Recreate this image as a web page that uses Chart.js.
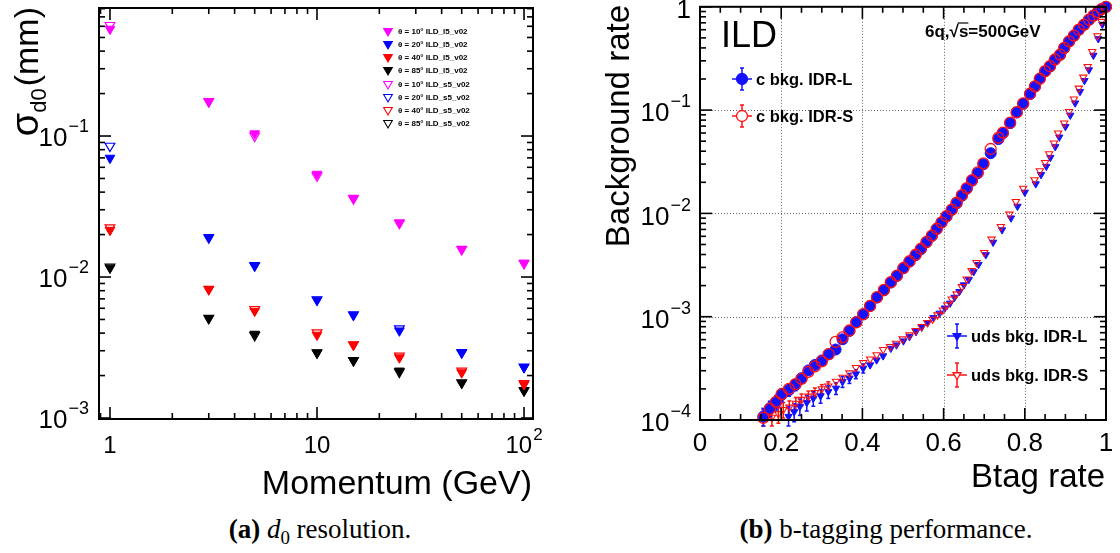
<!DOCTYPE html>
<html>
<head>
<meta charset="utf-8">
<script src="https://cdn.jsdelivr.net/npm/chart.js@4.4.1/dist/chart.umd.min.js"></script>
<style>
  body { margin: 0; background: #fff; width: 1120px; height: 553px; position: relative; overflow: hidden; }
  .box { position: absolute; top: 0; width: 560px; height: 505px; }
  #boxA { left: 0; }
  #boxB { left: 560px; }
  .cap { position: absolute; top: 514px; width: 440px; text-align: center;
         font-family: "Liberation Serif", "Times New Roman", serif; font-size: 27px; line-height: 30px; color: #000; }
  .cap sub { font-size: 70%; vertical-align: -0.3em; line-height: 0; }
</style>
</head>
<body>
<div class="box" id="boxA"><canvas id="chartA" width="560" height="505"></canvas></div>
<div class="box" id="boxB"><canvas id="chartB" width="560" height="505"></canvas></div>
<div class="cap" style="left:100px"><b>(a)</b> <i>d</i><sub>0</sub> resolution.</div>
<div class="cap" style="left:666px"><b>(b)</b> b-tagging performance.</div>

<script>
// --- (a) d0 resolution vs momentum ---
const momentum = [1, 3, 5, 10, 15, 25, 50, 100];
const sig10L5 = [0.574, 0.175, 0.104, 0.0537, 0.0363, 0.0243, 0.0158, 0.0126];
const sig20L5 = [0.0698, 0.0191, 0.0120, 0.00687, 0.00537, 0.00416, 0.00290, 0.00229];
const sig40L5 = [0.0215, 0.00818, 0.00574, 0.00388, 0.00330, 0.00268, 0.00210, 0.00173];
const sig85L5 = [0.0116, 0.00509, 0.00394, 0.00290, 0.00255, 0.00216, 0.00177, 0.00156];
const sig10S5 = [0.610, 0.176, 0.100, 0.0522, 0.0360, 0.0241, 0.0157, 0.0125];
const sig20S5 = [0.0849, 0.0190, 0.0121, 0.00690, 0.00540, 0.00430, 0.00292, 0.00230];
const sig40S5 = [0.0224, 0.00820, 0.00590, 0.00403, 0.00332, 0.00276, 0.00216, 0.00176];
const sig85S5 = [0.0118, 0.00510, 0.00385, 0.00291, 0.00256, 0.00212, 0.00178, 0.00157];
const seriesA = [
    { label: "θ = 10° ILD_l5_v02", data: sig10L5, color: '#ff00ff', filled: true },
    { label: "θ = 20° ILD_l5_v02", data: sig20L5, color: '#0000ff', filled: true },
    { label: "θ = 40° ILD_l5_v02", data: sig40L5, color: '#ff0000', filled: true },
    { label: "θ = 85° ILD_l5_v02", data: sig85L5, color: '#000000', filled: true },
    { label: "θ = 10° ILD_s5_v02", data: sig10S5, color: '#ff00ff', filled: false },
    { label: "θ = 20° ILD_s5_v02", data: sig20S5, color: '#0000ff', filled: false },
    { label: "θ = 40° ILD_s5_v02", data: sig40S5, color: '#ff0000', filled: false },
    { label: "θ = 85° ILD_s5_v02", data: sig85S5, color: '#000000', filled: false }
];
const aXTicks = [1, 10, 100];
const aXLabels = ["1", "10", "10^2"];
const aYTicks = [0.001, 0.01, 0.1];
const aYLabels = ["10^-3", "10^-2", "10^-1"];

// --- (b) b-tagging: background rate vs btag rate ---
const cBtag = [0.156, 0.172, 0.187, 0.201, 0.219, 0.235, 0.250, 0.267, 0.283, 0.300, 0.317, 0.334, 0.351, 0.368, 0.385,
    0.402, 0.419, 0.436, 0.453, 0.470, 0.485, 0.501, 0.516, 0.531, 0.544, 0.558, 0.571, 0.583, 0.595, 0.607,
    0.620, 0.632, 0.645, 0.657, 0.670, 0.684, 0.698, 0.716, 0.735, 0.746, 0.764, 0.780, 0.796, 0.813, 0.825,
    0.837, 0.850, 0.862, 0.874, 0.887, 0.897, 0.909, 0.921, 0.933, 0.946, 0.958, 0.969, 0.980, 0.989, 1.0];
const cBkgL = [1.08e-4, 1.30e-4, 1.47e-4, 1.75e-4, 1.95e-4, 2.18e-4, 2.54e-4, 3.02e-4, 3.41e-4, 3.77e-4, 4.32e-4, 4.81e-4,
    6.04e-4, 7.28e-4, 8.89e-4, 1.05e-3, 1.27e-3, 1.53e-3, 1.80e-3, 2.14e-3, 2.48e-3, 2.94e-3, 3.41e-3, 3.94e-3,
    4.50e-3, 5.26e-3, 6.05e-3, 7.03e-3, 8.15e-3, 9.31e-3, 0.0108, 0.0125, 0.0148, 0.0173, 0.0207, 0.0245, 0.0299,
    0.0383, 0.0524, 0.0598, 0.0748, 0.0948, 0.115, 0.143, 0.169, 0.201, 0.237, 0.264, 0.307, 0.343, 0.398, 0.461,
    0.524, 0.598, 0.670, 0.748, 0.818, 0.887, 0.948, 1.0];
const cBkgS = [1.05e-4, 1.28e-4, 1.50e-4, 1.78e-4, 2.00e-4, 2.22e-4, 2.50e-4, 2.92e-4, 3.30e-4, 3.70e-4, 4.35e-4, 5.70e-4,
    6.30e-4, 7.35e-4, 8.80e-4, 1.06e-3, 1.27e-3, 1.55e-3, 1.82e-3, 2.16e-3, 2.50e-3, 2.96e-3, 3.44e-3, 3.98e-3,
    4.55e-3, 5.30e-3, 6.10e-3, 7.10e-3, 8.20e-3, 9.40e-3, 0.0109, 0.0127, 0.0150, 0.0176, 0.0210, 0.0250, 0.0305,
    0.0420, 0.0540, 0.0605, 0.0755, 0.0955, 0.116, 0.144, 0.170, 0.202, 0.238, 0.266, 0.309, 0.345, 0.400, 0.463,
    0.526, 0.600, 0.672, 0.750, 0.820, 0.889, 0.950, 1.0];
const udsBtagL = [0.218, 0.232, 0.246, 0.263, 0.279, 0.297, 0.316, 0.335, 0.351, 0.368, 0.384, 0.402, 0.419, 0.435, 0.451,
    0.470, 0.484, 0.501, 0.516, 0.532, 0.546, 0.561, 0.575, 0.590, 0.603, 0.616, 0.627, 0.639, 0.650, 0.662,
    0.674, 0.686, 0.704, 0.722, 0.744, 0.766, 0.782, 0.800, 0.827, 0.840, 0.853, 0.863, 0.875, 0.885, 0.900,
    0.912, 0.924, 0.936, 0.947, 0.958, 0.969, 0.981, 0.991];
const udsBkgL = [1.08e-4, 1.20e-4, 1.35e-4, 1.47e-4, 1.62e-4, 1.71e-4, 1.88e-4, 2.03e-4, 2.35e-4, 2.54e-4, 2.79e-4, 3.17e-4,
    3.41e-4, 3.81e-4, 4.17e-4, 4.94e-4, 5.32e-4, 5.82e-4, 6.41e-4, 7.16e-4, 7.91e-4, 8.77e-4, 9.79e-4, 1.08e-3,
    1.21e-3, 1.35e-3, 1.54e-3, 1.75e-3, 2.03e-3, 2.29e-3, 2.72e-3, 3.20e-3, 3.98e-3, 5.25e-3, 6.92e-3, 9.02e-3,
    0.0117, 0.0160, 0.0193, 0.0237, 0.0285, 0.0347, 0.0442, 0.0547, 0.0692, 0.0891, 0.117, 0.151, 0.193, 0.245,
    0.339, 0.490, 0.676];
const udsBtagS = [0.177, 0.193, 0.205, 0.220, 0.236, 0.250, 0.267, 0.283, 0.300, 0.316, 0.335, 0.351, 0.368, 0.384, 0.402,
    0.419, 0.435, 0.451, 0.468, 0.483, 0.499, 0.516, 0.531, 0.546, 0.560, 0.573, 0.585, 0.598, 0.609, 0.620,
    0.632, 0.645, 0.657, 0.669, 0.681, 0.700, 0.718, 0.741, 0.762, 0.778, 0.796, 0.824, 0.837, 0.850, 0.860,
    0.872, 0.882, 0.897, 0.909, 0.921, 0.933, 0.944, 0.955, 0.966, 0.979, 0.989];
const udsBkgS = [1.06e-4, 1.15e-4, 1.26e-4, 1.33e-4, 1.45e-4, 1.58e-4, 1.70e-4, 1.84e-4, 2.00e-4, 2.13e-4, 2.37e-4, 2.59e-4,
    2.85e-4, 3.22e-4, 3.59e-4, 3.89e-4, 4.27e-4, 4.81e-4, 5.13e-4, 5.53e-4, 6.08e-4, 6.65e-4, 7.33e-4, 8.02e-4,
    8.77e-4, 9.44e-4, 1.04e-3, 1.16e-3, 1.30e-3, 1.48e-3, 1.66e-3, 1.95e-3, 2.31e-3, 2.79e-3, 3.34e-3, 4.18e-3,
    5.62e-3, 7.45e-3, 9.82e-3, 0.0130, 0.0175, 0.0211, 0.0258, 0.0310, 0.0377, 0.0479, 0.0598, 0.0748, 0.0968,
    0.128, 0.163, 0.208, 0.264, 0.369, 0.524, 0.721];
// relative errors, only visible on the lowest points
const cErrL = [0.20, 0.17, 0.15, 0.14, 0.13, 0.12, 0.10, 0.09];
const cErrS = [0.20, 0.17, 0.15, 0.13, 0.12, 0.11];
const udsErrL = [0.24, 0.20, 0.18, 0.17, 0.16, 0.15, 0.14, 0.13, 0.12, 0.11, 0.10, 0.10];
const udsErrS = [0.22, 0.19, 0.17, 0.15, 0.14, 0.13, 0.12, 0.11, 0.10, 0.10];
const bXTicks = [0, 0.2, 0.4, 0.6, 0.8, 1];
const bXLabels = ["0", "0.2", "0.4", "0.6", "0.8", "1"];
const bXMinor = [0.05, 0.1, 0.15, 0.25, 0.3, 0.35, 0.45, 0.5, 0.55, 0.65, 0.7, 0.75, 0.85, 0.9, 0.95];
const bYTicks = [1e-4, 1e-3, 1e-2, 1e-1, 1];
const bYLabels = ["10^-4", "10^-3", "10^-2", "10^-1", "1"];
const bGridX = [0.2, 0.4, 0.6, 0.8];
const bGridY = [1e-3, 1e-2, 1e-1];

const SANS = "'Liberation Sans', Arial, Helvetica, sans-serif";
const BLUE = '#1212ff';
const RED = '#ff1010';

function logMinors(lo, hi) {
    const out = [];
    for (let e = Math.floor(Math.log10(lo)); e <= Math.ceil(Math.log10(hi)); e++) {
        for (let m = 2; m <= 9; m++) {
            const v = m * Math.pow(10, e);
            if (v >= lo && v <= hi) out.push(v);
        }
    }
    return out;
}

// "10^-2" -> 10 with raised exponent, like ROOT's TLatex
function drawPowLabel(ctx, text, x, y, align, size) {
    const parts = text.split('^');
    const base = parts[0];
    const exp = parts.length > 1 ? parts[1].replace('-', '\u2212') : '';
    const es = Math.round(size * 0.7);
    ctx.font = size + 'px ' + SANS;
    const wb = ctx.measureText(base).width;
    ctx.font = es + 'px ' + SANS;
    const we = exp ? ctx.measureText(exp).width + 1 : 0;
    const total = wb + we;
    const x0 = align === 'right' ? x - total : (align === 'center' ? x - total / 2 : x);
    ctx.textAlign = 'left';
    ctx.textBaseline = 'middle';
    ctx.font = size + 'px ' + SANS;
    ctx.fillText(base, x0, y);
    if (exp) {
        ctx.font = es + 'px ' + SANS;
        ctx.fillText(exp, x0 + wb + 1, y - size * 0.45);
    }
}

function drawMarker(ctx, style, x, y, r, color, filled, lw) {
    ctx.beginPath();
    if (style === 'circle') {
        ctx.arc(x, y, r, 0, Math.PI * 2);
    } else {
        // triangle pointing down
        const h = r * 0.866;
        ctx.moveTo(x - h, y - r / 2);
        ctx.lineTo(x + h, y - r / 2);
        ctx.lineTo(x, y + r);
        ctx.closePath();
    }
    ctx.lineWidth = lw || 1;
    ctx.strokeStyle = color;
    ctx.fillStyle = filled ? color : '#fff';
    ctx.fill();
    ctx.stroke();
}

function line(ctx, x1, y1, x2, y2) {
    ctx.beginPath();
    ctx.moveTo(x1, y1);
    ctx.lineTo(x2, y2);
    ctx.stroke();
}

// ROOT-like frame: inner ticks on all four sides, labels, extras
function makeRootPlugin(cfg) {
    return {
        id: 'rootFrame',
        beforeDatasetsDraw(chart) {
            const ctx = chart.ctx, a = chart.chartArea;
            const xs = chart.scales.x, ys = chart.scales.y;
            ctx.save();
            if (cfg.gridX) {
                ctx.strokeStyle = '#666';
                ctx.lineWidth = 1;
                ctx.setLineDash([1, 2]);
                cfg.gridX.forEach(v => {
                    const px = Math.round(xs.getPixelForValue(v)) + 0.5;
                    line(ctx, px, a.top, px, a.bottom);
                });
                cfg.gridY.forEach(v => {
                    const py = Math.round(ys.getPixelForValue(v)) + 0.5;
                    line(ctx, a.left, py, a.right, py);
                });
                ctx.setLineDash([]);
            }
            // error bars
            chart.data.datasets.forEach(ds => {
                if (!ds.relErr) return;
                ctx.strokeStyle = ds.pointBorderColor;
                ctx.lineWidth = 1.5;
                ds.relErr.forEach((e, j) => {
                    const pt = ds.data[j];
                    const px = xs.getPixelForValue(pt.x);
                    const y1 = ys.getPixelForValue(pt.y * (1 + e));
                    const y2 = Math.min(ys.getPixelForValue(pt.y * (1 - e)), a.bottom + 6);
                    line(ctx, px, y1, px, y2);
                    line(ctx, px - 2, y1, px + 2, y1);
                    line(ctx, px - 2, y2, px + 2, y2);
                });
            });
            ctx.restore();
        },
        afterDraw(chart) {
            const ctx = chart.ctx, a = chart.chartArea;
            const xs = chart.scales.x, ys = chart.scales.y;
            ctx.save();
            ctx.strokeStyle = '#000';
            ctx.fillStyle = '#000';
            ctx.lineWidth = 2;
            ctx.strokeRect(a.left, a.top, a.right - a.left, a.bottom - a.top);
            const tick = (vals, len, isX) => vals.forEach(v => {
                if (isX) {
                    const px = xs.getPixelForValue(v);
                    line(ctx, px, a.bottom, px, a.bottom - len);
                    line(ctx, px, a.top, px, a.top + len);
                } else {
                    const py = ys.getPixelForValue(v);
                    line(ctx, a.left, py, a.left + len, py);
                    line(ctx, a.right, py, a.right - len, py);
                }
            });
            ctx.lineWidth = 1.6;
            tick(cfg.xMajor, 12, true);
            tick(cfg.xMinor, 6, true);
            tick(cfg.yMajor, 12, false);
            tick(cfg.yMinor, 6, false);
            cfg.xMajor.forEach((v, i) => {
                drawPowLabel(ctx, cfg.xLabels[i], xs.getPixelForValue(v), cfg.xLabelY, 'center', cfg.xSize);
            });
            cfg.yMajor.forEach((v, i) => {
                drawPowLabel(ctx, cfg.yLabels[i], cfg.yLabelX, ys.getPixelForValue(v) + cfg.yLabelDy, 'right', cfg.ySize);
            });
            cfg.extra(ctx, chart);
            ctx.restore();
        }
    };
}

// ---------------- chart (a) ----------------
const datasetsA = seriesA.map(s => ({
    label: s.label,
    data: momentum.map((m, i) => ({ x: m, y: s.data[i] })),
    showLine: false,
    pointStyle: 'triangle',
    pointRotation: 180,
    pointRadius: 5.6,
    pointHoverRadius: 5.6,
    pointBackgroundColor: s.filled ? s.color : 'rgba(255,255,255,0)',
    pointBorderColor: s.color,
    pointBorderWidth: s.filled ? 1 : 1.2,
    clip: false
}));

const cfgA = {
    xMajor: aXTicks, xLabels: aXLabels, xMinor: logMinors(0.885, 110.5),
    yMajor: aYTicks, yLabels: aYLabels, yMinor: logMinors(0.000984, 0.809),
    xLabelY: 446, xSize: 24, yLabelX: 89, yLabelDy: 3, ySize: 26,
    extra(ctx) {
        // y title: sigma_d0(mm)
        ctx.save();
        ctx.translate(38, 0);
        ctx.rotate(-Math.PI / 2);
        ctx.textAlign = 'left';
        ctx.textBaseline = 'alphabetic';
        ctx.font = '38px ' + SANS;
        const w1 = ctx.measureText('σ').width;
        ctx.font = '22px ' + SANS;
        const w2 = ctx.measureText('d0').width;
        ctx.font = '34px ' + SANS;
        const w3 = ctx.measureText('(mm)').width;
        let lx = -(7 + w1 + w2 + w3 + 2);
        ctx.font = '38px ' + SANS;
        ctx.fillText('σ', lx, 0);
        lx += w1;
        ctx.font = '22px ' + SANS;
        ctx.fillText('d0', lx, 8);
        lx += w2 + 2;
        ctx.font = '34px ' + SANS;
        ctx.fillText('(mm)', lx, 0);
        ctx.restore();
        // x title
        ctx.font = '34px ' + SANS;
        ctx.textAlign = 'right';
        ctx.textBaseline = 'alphabetic';
        ctx.fillText('Momentum (GeV)', 532, 494);
        // legend
        const rows = [31, 44, 57, 70, 84, 97, 110, 123];
        seriesA.forEach((s, i) => {
            drawMarker(ctx, 'triangle', 388, rows[i], 5, s.color, s.filled, 1.1);
            ctx.fillStyle = '#000';
            ctx.font = 'bold 8px ' + SANS;
            ctx.textAlign = 'left';
            ctx.textBaseline = 'middle';
            ctx.fillText(s.label, 398, rows[i] + 1);
        });
    }
};

new Chart(document.getElementById('chartA').getContext('2d'), {
    type: 'scatter',
    data: { datasets: datasetsA },
    options: {
        responsive: false,
        animation: false,
        events: [],
        layout: { padding: { left: 99, top: 8, right: 27, bottom: 86 } },
        plugins: { legend: { display: false }, tooltip: { enabled: false } },
        scales: {
            x: { type: 'logarithmic', min: 0.885, max: 110.5, display: false },
            y: { type: 'logarithmic', min: 0.000984, max: 0.809, display: false }
        }
    },
    plugins: [makeRootPlugin(cfgA)]
});

// ---------------- chart (b) ----------------
function pts(xs, ys) {
    return xs.map((x, i) => ({ x: x, y: ys[i] }));
}

const datasetsB = [
    {   // first dataset is painted last, so IDR-S sits on top
        label: 'c bkg. IDR-S', data: pts(cBtag, cBkgS), relErr: cErrS,
        pointStyle: 'circle', pointRadius: 5.5, pointBackgroundColor: 'rgba(255,255,255,0)',
        pointBorderColor: RED, pointBorderWidth: 1.3
    },
    {
        label: 'uds bkg. IDR-S', data: pts(udsBtagS, udsBkgS), relErr: udsErrS,
        pointStyle: 'triangle', pointRotation: 180, pointRadius: 4.2, pointBackgroundColor: 'rgba(255,255,255,0)',
        pointBorderColor: RED, pointBorderWidth: 1.1
    },
    {
        label: 'c bkg. IDR-L', data: pts(cBtag, cBkgL), relErr: cErrL,
        pointStyle: 'circle', pointRadius: 5.5, pointBackgroundColor: BLUE,
        pointBorderColor: BLUE, pointBorderWidth: 1
    },
    {
        label: 'uds bkg. IDR-L', data: pts(udsBtagL, udsBkgL), relErr: udsErrL,
        pointStyle: 'triangle', pointRotation: 180, pointRadius: 4.2, pointBackgroundColor: BLUE,
        pointBorderColor: BLUE, pointBorderWidth: 1
    }
].map(d => Object.assign({ showLine: false, clip: false, pointHoverRadius: d.pointRadius }, d));

function legendEntry(ctx, x, y, style, r, color, filled, text, tx, hw, vh) {
    ctx.strokeStyle = color;
    ctx.lineWidth = 1.5;
    line(ctx, x - hw, y, x + hw, y);
    line(ctx, x, y - vh, x, y + vh);
    line(ctx, x - 2, y - vh, x + 2, y - vh);
    line(ctx, x - 2, y + vh, x + 2, y + vh);
    drawMarker(ctx, style, x, y, r, color, filled, 1.3);
    ctx.fillStyle = '#000';
    ctx.font = 'bold 16.5px ' + SANS;
    ctx.textAlign = 'left';
    ctx.textBaseline = 'middle';
    ctx.fillText(text, tx, y + 1);
}

const cfgB = {
    xMajor: bXTicks, xLabels: bXLabels, xMinor: bXMinor,
    yMajor: bYTicks, yLabels: bYLabels, yMinor: logMinors(1e-4, 1),
    gridX: bGridX, gridY: bGridY,
    xLabelY: 444, xSize: 26, yLabelX: 131, yLabelDy: 4, ySize: 26,
    extra(ctx) {
        ctx.fillStyle = '#000';
        // y title
        ctx.save();
        ctx.translate(69, 5);
        ctx.rotate(-Math.PI / 2);
        ctx.font = '33px ' + SANS;
        ctx.textAlign = 'right';
        ctx.textBaseline = 'alphabetic';
        ctx.fillText('Background rate', 0, 0);
        ctx.restore();
        // x title
        ctx.font = '33px ' + SANS;
        ctx.textAlign = 'right';
        ctx.textBaseline = 'alphabetic';
        ctx.fillText('Btag rate', 545, 487);
        // ILD label
        ctx.font = '36px ' + SANS;
        ctx.textAlign = 'left';
        ctx.fillText('ILD', 161, 47);
        // 6q, sqrt(s)=500GeV
        ctx.font = 'bold 17px ' + SANS;
        let x = 365;
        const yb = 37;
        ctx.fillText('6q,', x, yb);
        x += ctx.measureText('6q,').width;
        ctx.fillText('\u221A', x, yb);
        x += ctx.measureText('\u221A').width;
        const ws = ctx.measureText('s').width;
        ctx.fillText('s', x, yb);
        ctx.strokeStyle = '#000';
        ctx.lineWidth = 1.2;
        line(ctx, x - 1, yb - 14, x + ws, yb - 14);
        x += ws;
        ctx.fillText('=500GeV', x, yb);
        // legends
        legendEntry(ctx, 182, 79, 'circle', 5.5, BLUE, true, 'c bkg. IDR-L', 196, 10, 11);
        legendEntry(ctx, 182, 116, 'circle', 5.5, RED, false, 'c bkg. IDR-S', 196, 10, 11);
        legendEntry(ctx, 397, 336, 'triangle', 4.5, BLUE, true, 'uds bkg. IDR-L', 411, 10, 12);
        legendEntry(ctx, 397, 375, 'triangle', 4.5, RED, false, 'uds bkg. IDR-S', 411, 10, 12);
    }
};

new Chart(document.getElementById('chartB').getContext('2d'), {
    type: 'scatter',
    data: { datasets: datasetsB },
    options: {
        responsive: false,
        animation: false,
        events: [],
        layout: { padding: { left: 140, top: 6, right: 14, bottom: 85 } },
        plugins: { legend: { display: false }, tooltip: { enabled: false } },
        scales: {
            x: { type: 'linear', min: 0, max: 1, display: false },
            y: { type: 'logarithmic', min: 1e-4, max: 1, display: false }
        }
    },
    plugins: [makeRootPlugin(cfgB)]
});
</script>
</body>
</html>
